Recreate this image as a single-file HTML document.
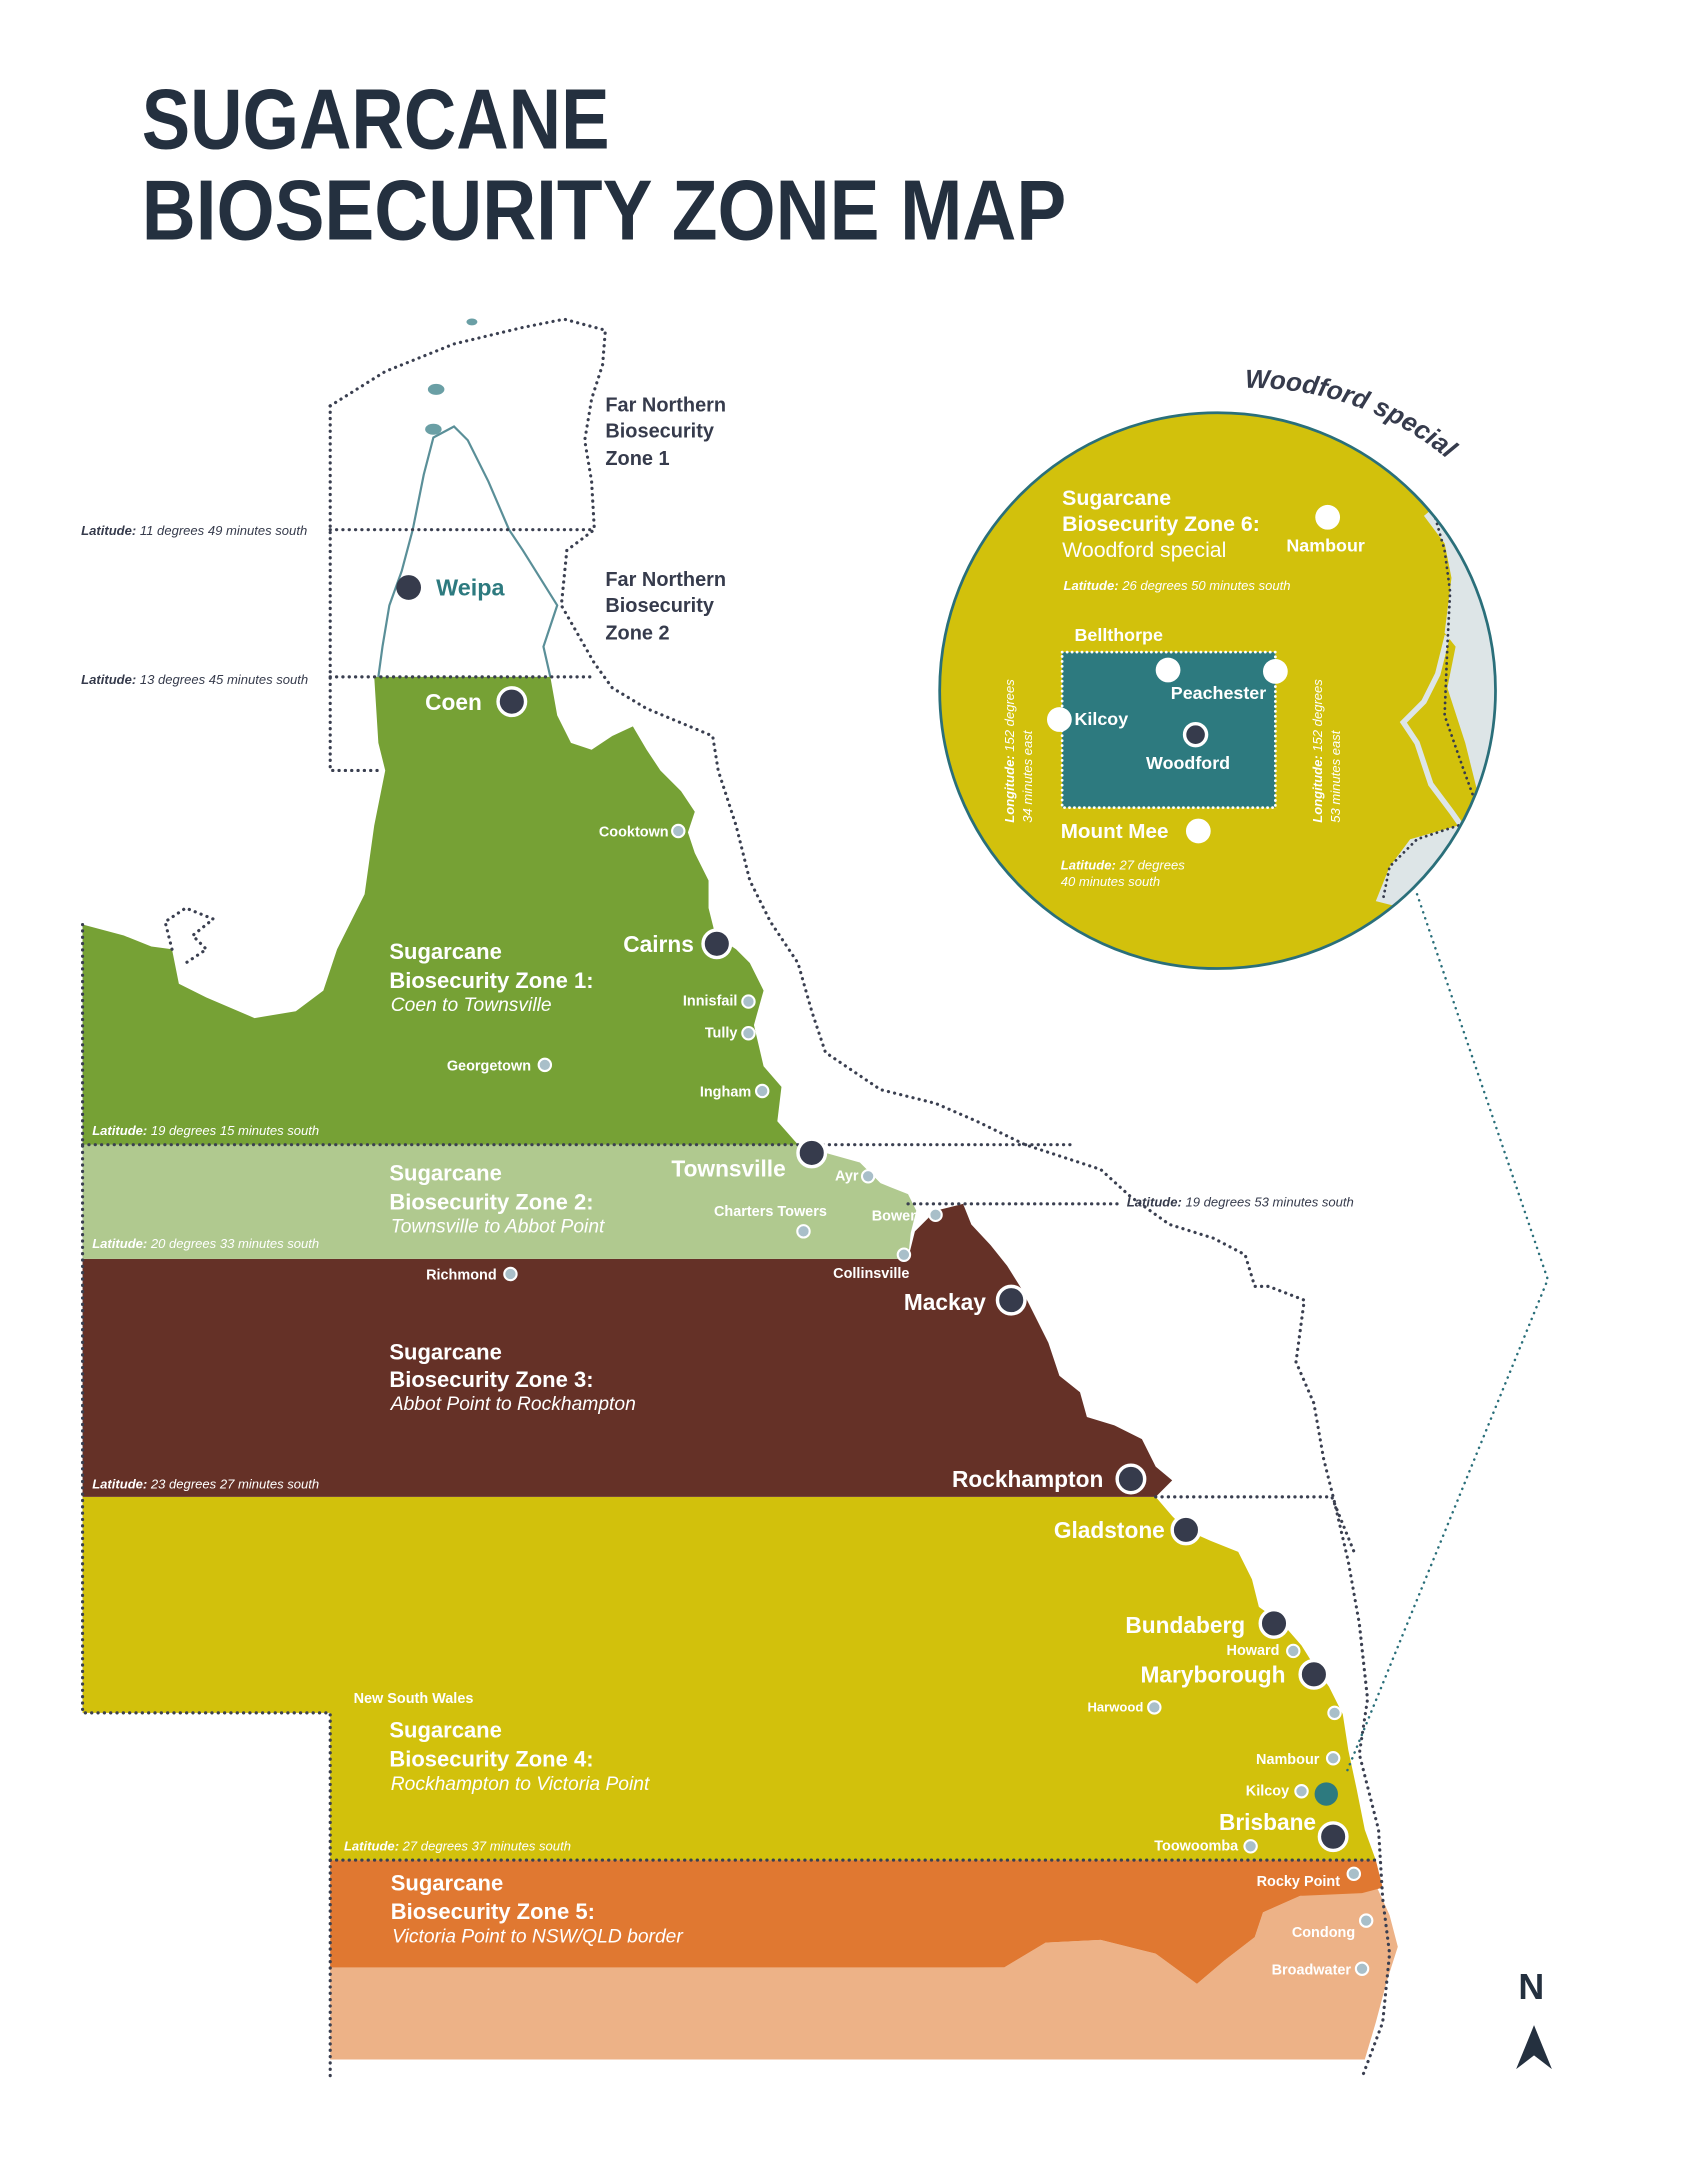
<!DOCTYPE html>
<html><head><meta charset="utf-8"><style>
html,body{margin:0;padding:0;background:#fff}
svg{display:block}
text{font-family:"Liberation Sans","DejaVu Sans",sans-serif}
.w{fill:#fff;font-weight:bold}
.d{fill:#363b4c}
.lat{font-size:9.5px;font-style:italic}
.zt{font-size:16px;font-weight:bold;fill:#fff}
.zs{font-size:14px;font-style:italic;fill:#fff}
.sm{font-size:10.5px;font-weight:bold;fill:#fff}
.big{font-size:16.5px;font-weight:bold;fill:#fff}
</style></head><body>
<svg width="1684" height="2182" viewBox="0 0 1224 1586" xmlns="http://www.w3.org/2000/svg">
<rect width="1224" height="1586" fill="#fff"/>
<text x="103" y="108" font-size="62" font-weight="bold" fill="#24303f" textLength="340" lengthAdjust="spacingAndGlyphs">SUGARCANE</text>
<text x="103" y="174" font-size="62" font-weight="bold" fill="#24303f" textLength="672" lengthAdjust="spacingAndGlyphs">BIOSECURITY ZONE MAP</text>

<path d="M240,1425 L730,1430 L760,1412 L800,1410 L840,1420 L870,1442 L890,1425 L912,1408 L918,1390 L945,1378 L1000,1370 L1010,1392 L1016,1415 L1008,1440 L1000,1470 L992,1497 L240,1497 Z" fill="#edb287"/>
<path d="M240,1352 L1000,1352 L1005,1372 L990,1376 L945,1378 L918,1390 L912,1408 L890,1425 L870,1442 L840,1420 L800,1410 L760,1412 L730,1430 L240,1430 Z" fill="#e07831"/>
<path d="M60,1088 L840,1088 L852,1102 L862,1112 L880,1120 L900,1128 L910,1148 L915,1168 L932,1180 L946,1196 L956,1212 L966,1226 L976,1246 L980,1272 L986,1300 L992,1330 L1000,1352 L240,1352 L240,1245 L60,1245 Z" fill="#d2c10c"/>
<path d="M60,915 L660,915 L665,895 L680,880 L700,875 L706,890 L720,905 L732,920 L742,936 L752,956 L762,976 L770,1000 L785,1012 L790,1030 L810,1036 L830,1046 L840,1066 L852,1076 L840,1088 L60,1088 Z" fill="#653127"/>
<path d="M60,832 L580,832 L600,838 L625,845 L640,860 L660,868 L666,880 L662,896 L660,915 L60,915 Z" fill="#b0c98f"/>
<path d="M272,492 L400,492 L405,520 L415,540 L430,545 L445,535 L460,528 L470,545 L480,560 L495,575 L505,590 L500,605 L505,620 L515,640 L515,660 L520,680 L535,690 L545,700 L555,720 L548,745 L555,775 L568,790 L565,815 L580,832 L60,832 L60,672 L90,680 L110,688 L125,690 L130,715 L150,725 L185,740 L215,735 L235,720 L245,690 L265,650 L272,600 L280,560 L275,540 Z" fill="#76a135"/>

<path d="M275,492 L278,470 L283,440 L292,415 L300,385 L308,345 L315,318 L330,310 L340,320 L355,350 L370,385 L380,400 L405,440 L395,470 L400,492" fill="none" stroke="#5a8f98" stroke-width="1.6"/>
<ellipse cx="315" cy="312" rx="6" ry="4" fill="#6a9fa5"/>
<ellipse cx="343" cy="234" rx="4" ry="2.5" fill="#6a9fa5"/>
<ellipse cx="317" cy="283" rx="6" ry="4" fill="#6a9fa5"/>

<g fill="none" stroke="#3a3f50" stroke-width="2.3" stroke-dasharray="0.1 4.5" stroke-linecap="round">
<path d="M240,295 L280,270 L330,250 L380,238 L410,232 L440,240 L438,265 L430,290 L425,320 L430,350 L432,385 L412,400 L408,440 L432,482 L445,500 L470,515 L518,535 L522,560 L535,600 L545,640 L560,670 L580,700 L590,735 L600,765 L640,792 L680,802 L710,815 L745,832 L800,850 L822,870 L850,890 L882,900 L905,912 L912,935 L922,935 L948,945 L942,990 L955,1020 L962,1060 L970,1092 L980,1135 L988,1180 L994,1235 L988,1275 L1002,1330 L1005,1380 L1010,1420 L1005,1470 L990,1510"/>
<path d="M240,295 L240,560 L275,560"/>
<path d="M240,385 L432,385"/>
<path d="M240,492 L432,492"/>
<path d="M60,672 L60,1245 L240,1245 L240,1510"/>
<path d="M60,832 L780,832"/>
<path d="M660,875 L812,875"/>
<path d="M840,1088 L968,1088 L985,1130"/>
<path d="M240,1352 L1000,1352"/>
<path d="M125,690 L120,670 L135,660 L155,668 L140,680 L150,690 L135,700"/>
</g>
<path d="M1030,650 L1125,930 L978,1290" fill="none" stroke="#2a6f7a" stroke-width="1.8" stroke-dasharray="0.1 4.5" stroke-linecap="round"/>

<g font-size="14.5" font-weight="bold" fill="#363b4c">
<text x="440" y="299">Far Northern</text><text x="440" y="318">Biosecurity</text><text x="440" y="338">Zone 1</text>
<text x="440" y="426">Far Northern</text><text x="440" y="445">Biosecurity</text><text x="440" y="465">Zone 2</text>
</g>
<g class="lat d"><text x="59" y="389"><tspan font-weight="bold">Latitude:</tspan> 11 degrees 49 minutes south</text>
<text x="59" y="497"><tspan font-weight="bold">Latitude:</tspan> 13 degrees 45 minutes south</text>
<text x="819" y="877"><tspan font-weight="bold">Latitude:</tspan> 19 degrees 53 minutes south</text></g>
<g class="lat" fill="#fff"><text x="67" y="825"><tspan font-weight="bold">Latitude:</tspan> 19 degrees 15 minutes south</text>
<text x="67" y="907"><tspan font-weight="bold">Latitude:</tspan> 20 degrees 33 minutes south</text>
<text x="67" y="1082"><tspan font-weight="bold">Latitude:</tspan> 23 degrees 27 minutes south</text>
<text x="250" y="1345"><tspan font-weight="bold">Latitude:</tspan> 27 degrees 37 minutes south</text></g>

<text x="283" y="697" class="zt">Sugarcane</text><text x="283" y="718" class="zt">Biosecurity Zone 1:</text><text x="284" y="735" class="zs">Coen to Townsville</text>
<text x="283" y="858" class="zt">Sugarcane</text><text x="283" y="879" class="zt">Biosecurity Zone 2:</text><text x="284" y="896" class="zs">Townsville to Abbot Point</text>
<text x="283" y="988" class="zt">Sugarcane</text><text x="283" y="1008" class="zt">Biosecurity Zone 3:</text><text x="284" y="1025" class="zs">Abbot Point to Rockhampton</text>
<text x="257" y="1238" class="sm" font-size="13">New South Wales</text>
<text x="283" y="1263" class="zt">Sugarcane</text><text x="283" y="1284" class="zt">Biosecurity Zone 4:</text><text x="284" y="1301" class="zs">Rockhampton to Victoria Point</text>
<text x="284" y="1374" class="zt">Sugarcane</text><text x="284" y="1395" class="zt">Biosecurity Zone 5:</text><text x="285" y="1412" class="zs">Victoria Point to NSW/QLD border</text>

<g fill="#363b4c" stroke="#fff" stroke-width="2.5">
<circle cx="297" cy="427" r="9" stroke="none"/>
<circle cx="372" cy="510" r="10"/><circle cx="521" cy="686" r="10"/><circle cx="590" cy="838" r="10"/>
<circle cx="735" cy="945" r="10"/><circle cx="822" cy="1075" r="10"/><circle cx="862" cy="1112" r="10"/>
<circle cx="926" cy="1180" r="10"/><circle cx="955" cy="1217" r="10"/><circle cx="969" cy="1335" r="10"/>
</g>
<circle cx="964" cy="1304" r="8.5" fill="#2d7a7f"/>
<text x="317" y="433" font-size="17" font-weight="bold" fill="#2d7a7f">Weipa</text>
<text x="309" y="516" class="big">Coen</text>
<text x="453" y="692" class="big">Cairns</text>
<text x="488" y="855" class="big">Townsville</text>
<text x="657" y="952" class="big">Mackay</text>
<text x="692" y="1081" class="big">Rockhampton</text>
<text x="766" y="1118" class="big">Gladstone</text>
<text x="818" y="1187" class="big">Bundaberg</text>
<text x="829" y="1223" class="big">Maryborough</text>
<text x="886" y="1330" class="big">Brisbane</text>

<g fill="#a9bfc9" stroke="#fff" stroke-width="1.5">
<circle cx="493" cy="604" r="4.5"/><circle cx="544" cy="728" r="4.5"/><circle cx="544" cy="751" r="4.5"/>
<circle cx="396" cy="774" r="4.5"/><circle cx="554" cy="793" r="4.5"/><circle cx="631" cy="855" r="4.5"/>
<circle cx="584" cy="895" r="4.5"/><circle cx="680" cy="883" r="4.5"/><circle cx="657" cy="912" r="4.5"/>
<circle cx="371" cy="926" r="4.5"/><circle cx="940" cy="1200" r="4.5"/><circle cx="839" cy="1241" r="4.5"/>
<circle cx="970" cy="1245" r="4.5"/><circle cx="969" cy="1278" r="4.5"/><circle cx="946" cy="1302" r="4.5"/>
<circle cx="909" cy="1342" r="4.5"/><circle cx="984" cy="1362" r="4.5"/><circle cx="993" cy="1396" r="4.5"/>
<circle cx="990" cy="1431" r="4.5"/>
</g>
<g class="sm" text-anchor="end">
<text x="486" y="608">Cooktown</text><text x="536" y="731">Innisfail</text><text x="536" y="754">Tully</text>
<text x="386" y="778">Georgetown</text><text x="546" y="797">Ingham</text><text x="624" y="858">Ayr</text>
<text x="601" y="884">Charters Towers</text><text x="668" y="887">Bowen</text><text x="661" y="929">Collinsville</text>
<text x="361" y="930">Richmond</text><text x="930" y="1203">Howard</text><text x="831" y="1244" font-size="9.5">Harwood</text>
<text x="959" y="1282">Nambour</text><text x="937" y="1305">Kilcoy</text><text x="900" y="1345">Toowoomba</text>
<text x="974" y="1371">Rocky Point</text><text x="985" y="1408">Condong</text><text x="982" y="1435">Broadwater</text>
</g>

<defs><clipPath id="cc"><circle cx="885" cy="502" r="202"/></clipPath>
<path id="arc" d="M905,282 A222,222 0 0 1 1100,390"/></defs>
<circle cx="885" cy="502" r="202" fill="#d2c10c"/>
<g clip-path="url(#cc)">
<path d="M1035,375 L1050,395 L1055,420 L1050,460 L1058,470 L1052,500 L1065,540 L1075,580 L1060,600 L1025,610 L1010,630 L1000,655 L1100,680 L1100,320 Z" fill="#dde5e7"/>
<path d="M1052,462 L1045,490 L1035,510 L1020,525 L1030,540 L1040,570 L1055,590 L1062,600" fill="none" stroke="#dde5e7" stroke-width="4"/>
<path d="M1040,365 L1050,400 L1054,430 L1052,470 L1050,520 L1064,560 L1075,590" fill="none" stroke="#363b4c" stroke-width="2" stroke-dasharray="0.1 4" stroke-linecap="round"/>
<path d="M1060,600 L1030,610 L1010,630 L1005,655" fill="none" stroke="#363b4c" stroke-width="2" stroke-dasharray="0.1 4" stroke-linecap="round"/>
</g>
<circle cx="885" cy="502" r="202" fill="none" stroke="#2a6f7a" stroke-width="2"/>
<text font-size="19" font-weight="bold" font-style="italic" fill="#363b4c"><textPath href="#arc">Woodford special</textPath></text>
<text x="772" y="367" font-size="15.5" font-weight="bold" fill="#fff">Sugarcane</text>
<text x="772" y="386" font-size="15.5" font-weight="bold" fill="#fff">Biosecurity Zone 6:</text>
<text x="772" y="405" font-size="15.5" fill="#fff">Woodford special</text>
<circle cx="965" cy="376" r="9" fill="#fff"/>
<text x="935" y="401" font-size="13" font-weight="bold" fill="#fff">Nambour</text>
<text x="773" y="429" class="lat" fill="#fff"><tspan font-weight="bold">Latitude:</tspan> 26 degrees 50 minutes south</text>
<text x="781" y="466" font-size="13" font-weight="bold" fill="#fff">Bellthorpe</text>
<rect x="772" y="474" width="155" height="113" fill="#2d7a7f" stroke="#fff" stroke-width="2" stroke-dasharray="0.1 3.5" stroke-linecap="round"/>
<circle cx="849" cy="487" r="9" fill="#fff"/><circle cx="927" cy="488" r="9" fill="#fff"/>
<circle cx="770" cy="523" r="9" fill="#fff"/>
<circle cx="869" cy="534" r="8" fill="#363b4c" stroke="#fff" stroke-width="2.5"/>
<text x="851" y="508" font-size="13" font-weight="bold" fill="#fff">Peachester</text>
<text x="781" y="527" font-size="13" font-weight="bold" fill="#fff">Kilcoy</text>
<text x="833" y="559" font-size="13" font-weight="bold" fill="#fff">Woodford</text>
<text x="771" y="609" font-size="15" font-weight="bold" fill="#fff">Mount Mee</text>
<circle cx="871" cy="604" r="9" fill="#fff"/>
<text x="771" y="632" class="lat" fill="#fff"><tspan font-weight="bold">Latitude:</tspan> 27 degrees</text>
<text x="771" y="644" class="lat" fill="#fff">40 minutes south</text>
<text transform="translate(737,598) rotate(-90)" class="lat" fill="#fff"><tspan font-weight="bold">Longitude:</tspan> 152 degrees</text>
<text transform="translate(750,598) rotate(-90)" class="lat" fill="#fff">34 minutes east</text>
<text transform="translate(961,598) rotate(-90)" class="lat" fill="#fff"><tspan font-weight="bold">Longitude:</tspan> 152 degrees</text>
<text transform="translate(974,598) rotate(-90)" class="lat" fill="#fff">53 minutes east</text>

<text x="1113" y="1453" font-size="26" font-weight="bold" fill="#24303f" text-anchor="middle">N</text>
<path d="M1115,1472 L1102,1504 L1115,1494 L1128,1504 Z" fill="#24303f"/>
</svg>
</body></html>
